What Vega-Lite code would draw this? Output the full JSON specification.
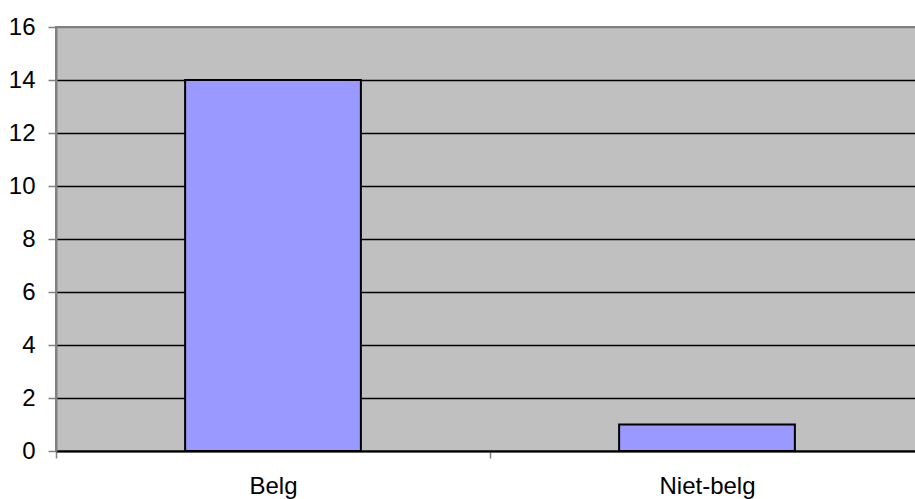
{
  "$schema": "https://vega.github.io/schema/vega-lite/v6.json",
  "autosize": "none",
  "width": 868,
  "height": 424,
  "padding": {"left": 56, "top": 27, "right": 0, "bottom": 48},
  "background": "white",
  "config": {
    "view": {"fill": "#C0C0C0", "stroke": "#808080", "strokeWidth": 2},
    "font": "Liberation Sans"
  },
  "data": {"values": [
    {"land": "Belg", "aantal": 14},
    {"land": "Niet-belg", "aantal": 1}
  ]},
  "mark": {"type": "bar", "color": "#9999FF", "stroke": "black", "strokeWidth": 2, "width": {"band": 0.405}},
  "encoding": {
    "x": {
      "field": "land", "type": "nominal", "sort": null,
      "scale": {"paddingInner": 0, "paddingOuter": 0},
      "axis": {
        "title": null, "labelAngle": 0, "tickBand": "extent",
        "domainColor": "black", "domainWidth": 2,
        "tickColor": "#808080", "tickSize": 7, "tickWidth": 1.5,
        "labelPadding": 16, "labelFontSize": 24, "labelColor": "black", "labelFont": "Liberation Sans"
      }
    },
    "y": {
      "field": "aantal", "type": "quantitative",
      "scale": {"domain": [0, 16], "nice": false},
      "axis": {
        "title": null, "values": [0, 2, 4, 6, 8, 10, 12, 14, 16],
        "grid": true,
        "gridColor": {"condition": {"test": "datum.value == 16", "value": "#808080"}, "value": "black"},
        "gridWidth": 1.5,
        "domainColor": "#808080", "domainWidth": 2,
        "tickColor": "#808080", "tickSize": 8, "tickWidth": 1.5,
        "labelPadding": 13, "labelFontSize": 24, "labelColor": "black", "labelFont": "Liberation Sans"
      }
    }
  }
}
